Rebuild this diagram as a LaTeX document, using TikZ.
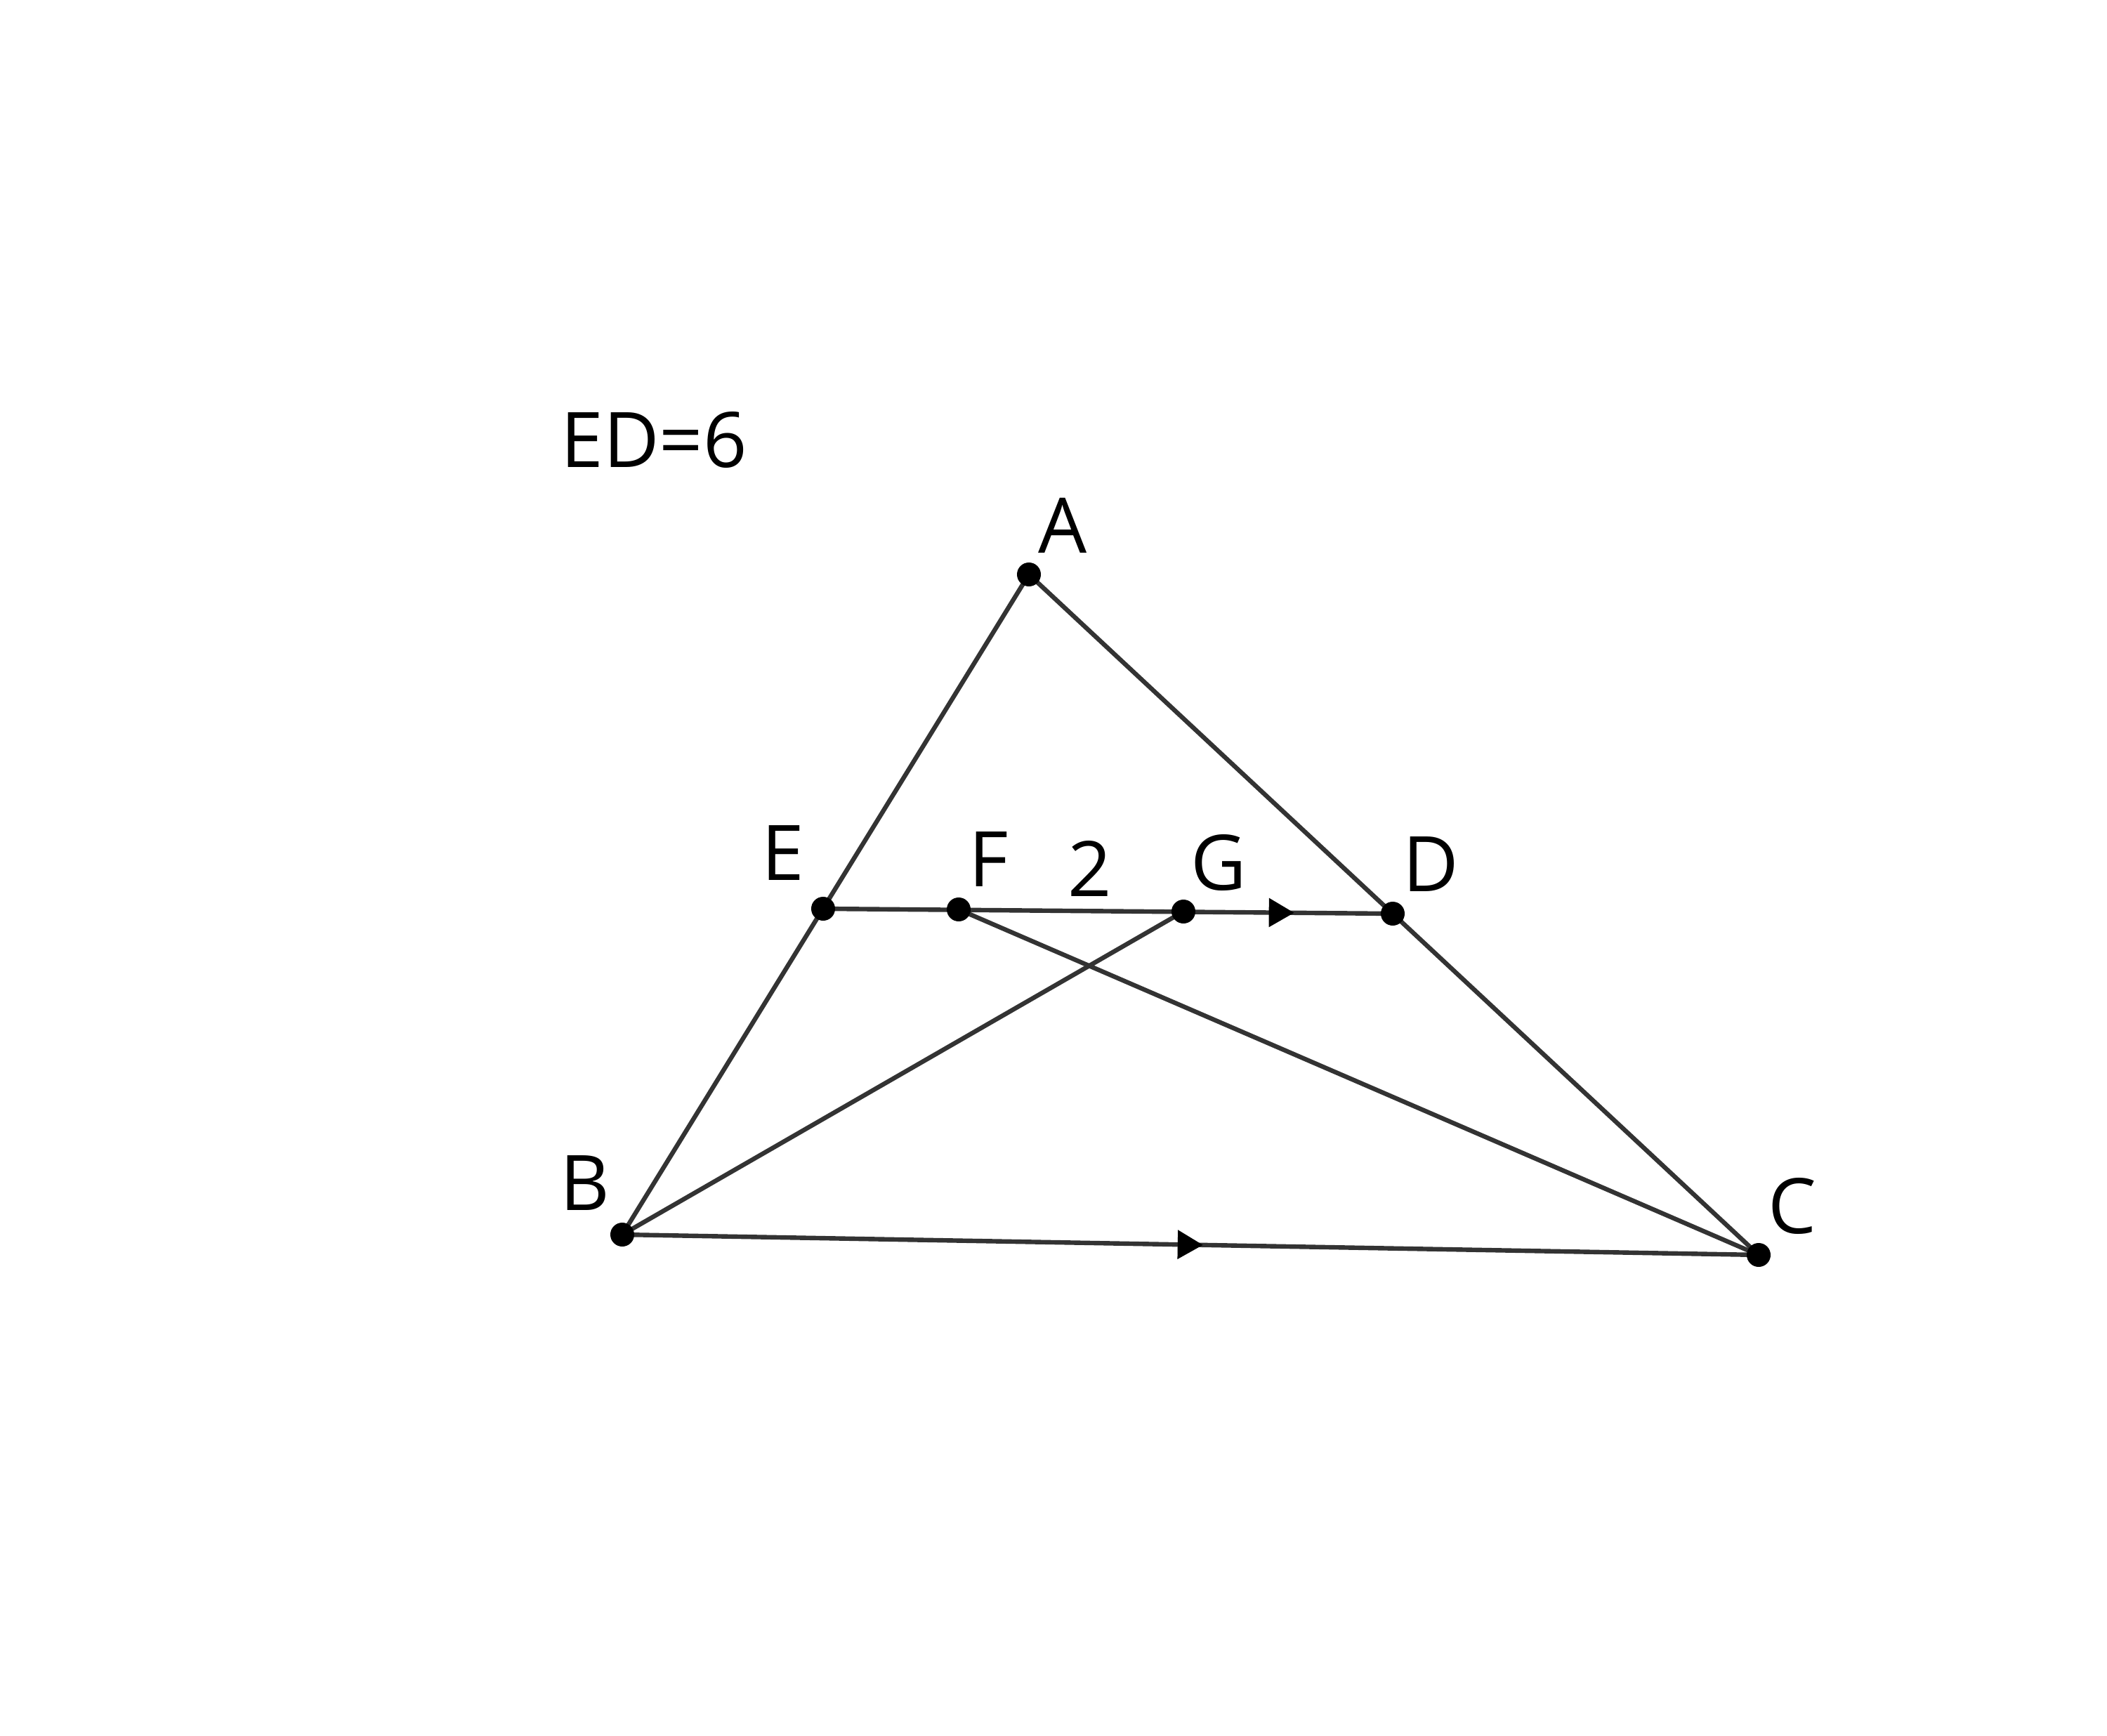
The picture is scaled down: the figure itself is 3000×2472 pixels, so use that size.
\documentclass[tikz,border=0pt]{standalone}
\usepackage{fontspec}
\setmainfont{Open Sans}
\usetikzlibrary{arrows.meta,decorations.markings}
\definecolor{linegray}{HTML}{333333}
\tikzset{
  seg/.style={draw=linegray, line width=1.6pt},
  arrowmid/.style={postaction={decorate}, decoration={markings, mark=at position #1 with {\arrow{Triangle[length=9pt,width=10pt,color=black,fill=black]}}}},
  dot/.style={fill=black},
  lbl/.style={inner sep=0pt, font=\fontsize{27.3pt}{32pt}\selectfont}
}
\begin{document}
\begin{tikzpicture}[x=0.25pt,y=-0.25pt]
\useasboundingbox (0,0) rectangle (3000,2472);
\coordinate (A) at (1465,818);
\coordinate (B) at (886,1758);
\coordinate (C) at (2504,1787);
\coordinate (D) at (1983,1301);
\coordinate (E) at (1172,1294);
\coordinate (F) at (1365,1295);
\coordinate (G) at (1685,1298);

\draw[seg] (A) -- (B);
\draw[seg] (A) -- (C);
\draw[seg, arrowmid=0.511] (B) -- (C);
\draw[seg, arrowmid=0.827] (E) -- (D);
\draw[seg] (B) -- (G);
\draw[seg] (F) -- (C);

\foreach \p in {A,B,C,D,E,F,G} \fill[dot] (\p) circle[radius=4.25pt];

\node[lbl] (lA) at (1513,748) {A};
\node[lbl] (lB) at (833,1685) {B};
\node[lbl] (lC) at (2552,1717) {C};
\node[lbl] (lD) at (2037,1231) {D};
\node[lbl] (lE) at (1115,1215) {E};
\node[lbl] (lF) at (1408,1224) {F};
\node[lbl] (lG) at (1735,1228) {G};
\node[lbl] (l2) at (1552,1237) {2};
\node[lbl] (lED) at (931,626) {ED=6};
\end{tikzpicture}
\end{document}
